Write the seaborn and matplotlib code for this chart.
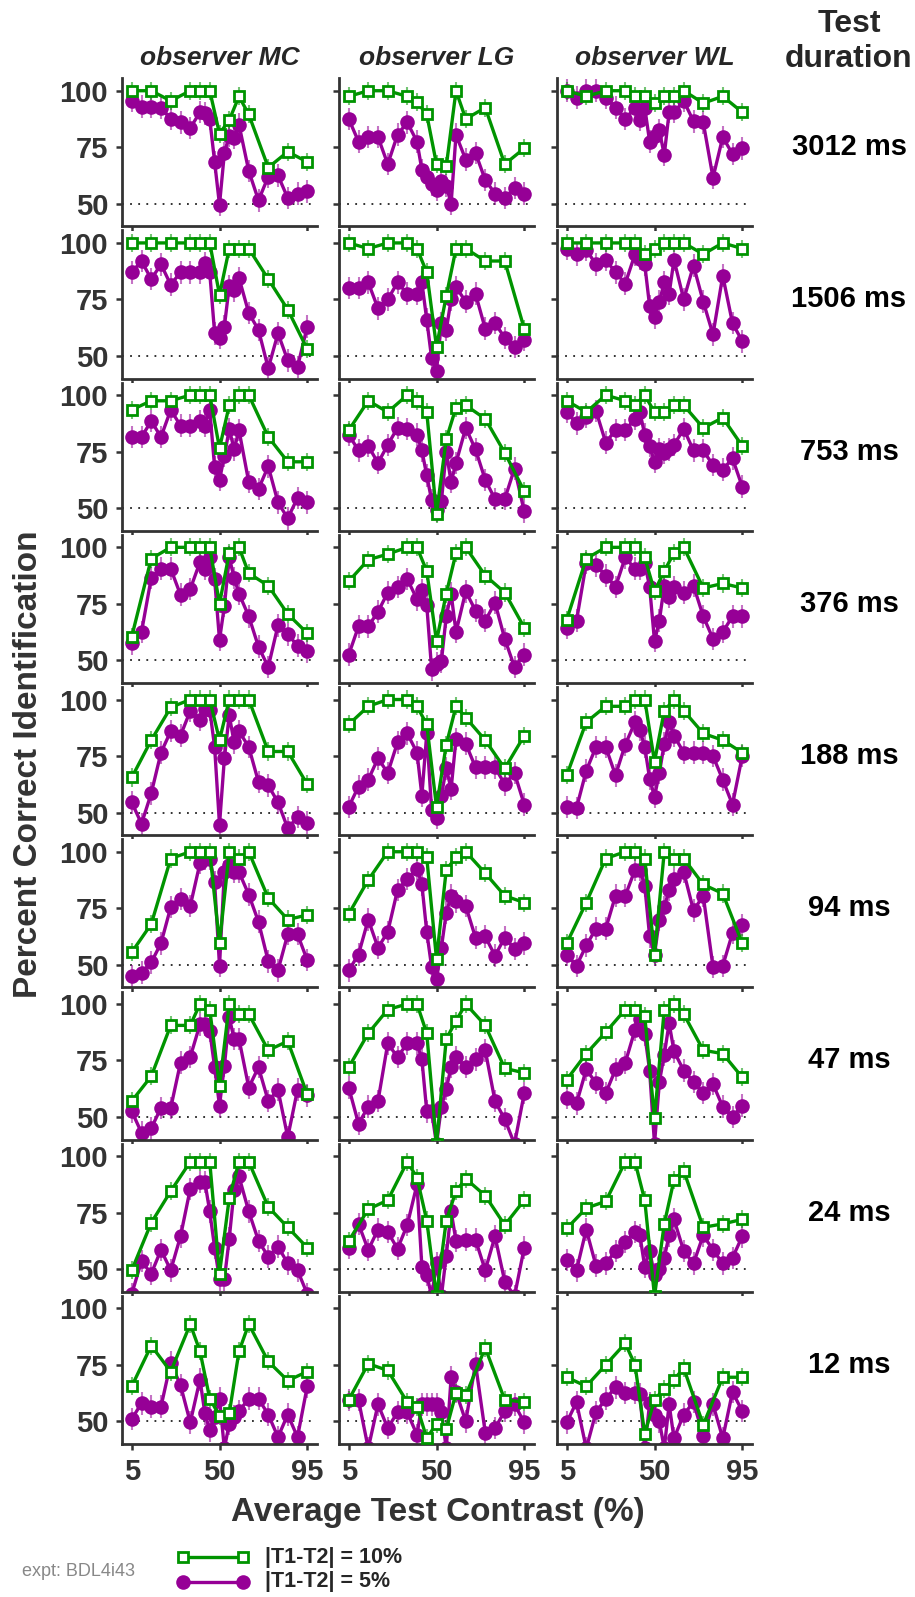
import numpy as np
import pandas as pd
import matplotlib
matplotlib.use("Agg")
import matplotlib.pyplot as plt
import seaborn as sns
from matplotlib.lines import Line2D
from matplotlib import transforms

# ---------------- data ----------------
X10 = [5, 15, 25, 35, 40, 45, 50, 55, 60, 65, 75, 85, 95]
X5 = [5, 10, 15, 20, 25, 30, 35, 40, 42.5, 45, 47.5, 50, 52.5, 55, 57.5, 60, 65, 70, 75, 80, 85, 90, 95]
DURATIONS = ["3012 ms", "1506 ms", "753 ms", "376 ms", "188 ms", "94 ms", "47 ms", "24 ms", "12 ms"]
OBSERVERS = ["observer MC", "observer LG", "observer WL"]
X_TICKS = [5, 50, 95]
Y_TICKS = [50, 75, 100]
ERR_10 = 4.0
ERR_5 = 5.0

# observer MC
MC_10 = [
    [100, 100, 95.5, 100, 100, 100, 81, 87, 97.5, 89.5, 66, 73, 68.5],
    [100, 100, 100, 100, 100, 100, 77, 97.5, 97.5, 97.5, 84, 70.5, 53],
    [93.5, 97.5, 97.5, 100, 100, 100, 76.5, 95.5, 100, 100, 81.5, 70.5, 70.5],
    [60.5, 95, 100, 100, 100, 100, 75, 97.5, 100, 88.5, 83, 70.5, 62],
    [65.5, 82, 96.5, 100, 100, 100, 82, 100, 100, 100, 77, 77, 62.5],
    [55.5, 68, 97, 100, 100, 100, 59.5, 100, 97, 100, 79.5, 70, 72],
    [57, 68, 90.5, 90.5, 100, 97.5, 63.5, 100, 95.5, 95.5, 79.5, 83.5, 60],
    [49.5, 70.5, 84.5, 97.5, 97.5, 97.5, 48, 81.5, 97.5, 97.5, 77.5, 68.5, 59.5],
    [65.5, 83.5, 72, 93, 81, 60, 52.5, 53.5, 81, 93, 76.5, 68, 72],
]
MC_5 = [
    [95.5, 93, 93, 92.5, 87.5, 86, 83.5, 90.5, 90, 87.5, 68.5, 49.5, 72.5, 80, 79, 85, 64.5, 51.5, 62, 62.5, 52.5, 54.5, 55.5],
    [87, 92, 84, 90.5, 81.5, 87, 87, 87, 91, 87, 60, 58, 63, 81, 79, 84.5, 69, 61.5, 44.5, 60, 48, 45, 63],
    [81.5, 81.5, 88.5, 81.5, 93.5, 86.5, 86.5, 88.5, 86.5, 93.5, 68, 62.5, 73, 85, 76, 84.5, 61.5, 58.5, 68.5, 52.5, 45.5, 54.5, 52.5],
    [57.5, 62.5, 86.5, 90.5, 90.5, 79, 81.5, 93.5, 90.5, 95.5, 86, 59, 74, 95.5, 86.5, 79.5, 69.5, 56, 47, 65.5, 61.5, 56.5, 54],
    [54.5, 45, 58.5, 76.5, 86, 84, 95, 91, 96, 95.5, 79, 44.5, 74, 93, 81, 86, 79, 63.5, 62, 54.5, 43, 48, 45.5],
    [45, 46.5, 51, 59.5, 75.5, 79, 76, 95, 97, 97, 86.5, 49.5, 91, 94, 91, 91, 81, 69, 51.5, 47.5, 63.5, 63.5, 52],
    [52.5, 43, 45, 54, 54, 74, 76.5, 91, 91, 88, 72, 55, 72.5, 94, 84.5, 84.5, 63, 72, 57, 62, 41, 62, 59.5],
    [39, 53.5, 48, 58.5, 49.5, 64.5, 85.5, 88.5, 88.5, 75.5, 59.5, 45.5, 45.5, 63.5, 85, 91, 75.5, 62.5, 55.5, 60, 52.5, 49.5, 39],
    [51, 58, 56.5, 56.5, 76, 66, 49.5, 68.5, 53.5, 46, 52, 60, 38, 49, 52, 54.5, 60, 60, 53, 43, 53, 43, 65.5],
]

# observer LG
LG_10 = [
    [97.5, 100, 100, 97.5, 95, 89.5, 67.5, 66.5, 100, 87.5, 92.5, 67.5, 74.5],
    [100, 97.5, 100, 100, 97.5, 87, 54, 76.5, 97.5, 97.5, 92, 92, 62],
    [84.5, 97.5, 92.5, 100, 97.5, 92.5, 47.5, 80.5, 94.5, 95.5, 89.5, 74.5, 57.5],
    [85, 94.5, 97, 100, 100, 89.5, 58.5, 79.5, 97.5, 100, 87.5, 80, 64.5],
    [89, 97, 100, 100, 97, 89, 52.5, 80, 97, 92, 82, 69.5, 84],
    [72.5, 87.5, 100, 100, 100, 97.5, 52.5, 92, 97.5, 100, 90.5, 80.5, 77.5],
    [72, 87, 97.5, 100, 100, 87, 38, 84.5, 92.5, 100, 90.5, 71.5, 69.5],
    [62.5, 76.5, 80.5, 97.5, 90.5, 71.5, 38, 71.5, 84.5, 90, 82.5, 69.5, 80.5],
    [59.5, 75.5, 72.5, 58.5, 56.5, 42.5, 49, 46.5, 62.5, 61.5, 82.5, 59.5, 58.5],
]
LG_5 = [
    [87.5, 77.5, 79.5, 79.5, 67.5, 80.5, 86, 77.5, 65, 62, 58.5, 56, 60, 58, 50, 80.5, 69.5, 72.5, 60.5, 54.5, 52.5, 57, 54.5],
    [80, 80, 82.5, 71, 75, 82.5, 77.5, 77.5, 82.5, 66, 49, 43.5, 64.5, 61.5, 75, 80.5, 74, 77.5, 62, 64.5, 58, 54, 57],
    [82.5, 75.5, 77.5, 70, 78, 85.5, 85, 82.5, 75.5, 64.5, 53.5, 49, 53, 75, 61.5, 70, 85.5, 76, 62.5, 54, 54, 67.5, 48.5],
    [52.5, 65, 65, 71.5, 80, 82.5, 86, 77, 81, 74.5, 46, 48.5, 49.5, 69.5, 79.5, 62.5, 80.5, 72, 67.5, 75.5, 59.5, 47, 52.5],
    [52.5, 61.5, 64.5, 74, 67.5, 81, 85, 76.5, 57.5, 85, 51, 47.5, 57.5, 69.5, 60.5, 82.5, 80.5, 70, 70, 70, 62.5, 67.5, 53.5],
    [47.5, 54.5, 70, 57.5, 64.5, 83, 88, 92.5, 85.5, 64.5, 49, 43.5, 57.5, 73, 80.5, 78, 76, 62, 62.5, 54, 62, 57, 59.5],
    [63, 47, 54.5, 57, 82.5, 76.5, 82.5, 82.5, 75.5, 52.5, 52.5, 38, 54.5, 62.5, 72, 76.5, 72, 75.5, 79.5, 57, 49, 38, 60.5],
    [59.5, 70, 58.5, 67.5, 66.5, 59, 69.5, 87.5, 51, 47.5, 38, 52.5, 38, 56, 75.5, 62.5, 63, 63, 49.5, 64.5, 44.5, 38, 59.5],
    [59.5, 59.5, 38, 57.5, 47, 54, 54, 44, 57.5, 57.5, 57.5, 57.5, 54, 38, 69.5, 63, 50, 75.5, 45, 47, 54.5, 57.5, 49.5],
]

# observer WL
WL_10 = [
    [100, 97.5, 100, 100, 97.5, 97.5, 94.5, 97.5, 97.5, 100, 94.5, 97.5, 90.5],
    [100, 100, 100, 100, 100, 95, 97.5, 100, 100, 100, 95, 100, 97.5],
    [97.5, 92.5, 100, 97.5, 95.5, 100, 92.5, 92.5, 95.5, 95.5, 85.5, 90, 77.5],
    [68, 95, 100, 100, 100, 95.5, 80.5, 89.5, 97.5, 100, 82, 84, 82],
    [66.5, 90, 97, 97, 100, 100, 72.5, 95, 100, 95, 85, 82, 76.5],
    [59.5, 77.5, 97, 100, 100, 97, 54.5, 100, 97, 97, 85.5, 81.5, 59.5],
    [66.5, 78, 87.5, 97.5, 97.5, 94.5, 49.5, 97.5, 100, 95.5, 79.5, 78, 67.5],
    [68, 77, 80, 97.5, 97.5, 80.5, 38, 70, 89.5, 93.5, 68.5, 70, 72],
    [69.5, 65.5, 75, 84.5, 75, 44.5, 59.5, 64.5, 68.5, 73.5, 48.5, 69.5, 69.5],
]
WL_5 = [
    [100, 97, 100, 100, 97, 92.5, 87.5, 92.5, 87, 92.5, 77.5, 80, 82.5, 71.5, 90.5, 90.5, 95.5, 86.5, 86, 61.5, 79.5, 72, 74.5],
    [97.5, 95, 97, 90.5, 92.5, 87, 82, 95, 93, 90.5, 72, 67, 74, 82.5, 77.5, 92.5, 75, 90, 74, 59.5, 85.5, 64.5, 56.5],
    [92.5, 87.5, 90.5, 93, 79, 84.5, 84.5, 89.5, 92.5, 82.5, 77.5, 70.5, 76, 74.5, 76, 78, 85, 75.5, 75.5, 69, 67, 72, 59.5],
    [64.5, 67.5, 93, 92, 87.5, 82.5, 95.5, 90.5, 90.5, 93, 82.5, 58.5, 67.5, 83, 78, 82.5, 80, 83, 69.5, 59.5, 62.5, 69.5, 69.5],
    [52.5, 52, 68.5, 79, 79, 66.5, 80, 90, 86.5, 79, 65, 57, 67.5, 80.5, 90, 84, 76.5, 76.5, 76.5, 75, 64.5, 53.5, 75],
    [54.5, 49.5, 58.5, 66, 66, 80.5, 80.5, 92, 92, 85, 62.5, 54.5, 70, 75.5, 83, 88, 91, 74, 80.5, 49, 49.5, 64, 67.5],
    [58.5, 56, 71, 65, 60.5, 71, 74, 88.5, 93.5, 86.5, 70.5, 38, 65.5, 77.5, 91.5, 79, 70.5, 65.5, 60.5, 64.5, 54.5, 50, 55],
    [54, 49.5, 67.5, 51.5, 52.5, 58, 62, 66.5, 65, 51, 58, 47.5, 50, 55, 65, 72, 58, 52.5, 65, 58.5, 52.5, 55, 64.5],
    [49.5, 58.5, 38, 54, 60, 65, 62.5, 62.5, 62, 38, 58, 53, 50, 38, 57.5, 42.5, 53, 58.5, 43.5, 57.5, 42.5, 63, 54.5],
]

SERIES_10 = [MC_10, LG_10, WL_10]
SERIES_5 = [MC_5, LG_5, WL_5]
LEGEND_LABELS = ["|T1-T2| = 10%", "|T1-T2| = 5%"]

# ---------------- style ----------------
sns.set_style("ticks")
plt.rcParams["font.family"] = ["Liberation Sans", "DejaVu Sans"]
GREEN = "#009400"
PURPLE = "#960096"
AX_COL = "#333333"

W, H = 915, 1597
fig = plt.figure(figsize=(W / 100, H / 100), dpi=100)

COL_LEFT = [122, 339, 557]
AX_W = 195
ROW_TOP0 = 78.3
ROW_STEP = 152.2
AX_H = 148

for r in range(9):
    for c in range(3):
        top = ROW_TOP0 + ROW_STEP * r
        ax = fig.add_axes([COL_LEFT[c] / W, 1 - (top + AX_H) / H, AX_W / W, AX_H / H])
        y10 = np.array(SERIES_10[c][r], dtype=float)
        y5 = np.array(SERIES_5[c][r], dtype=float)
        df10 = pd.DataFrame({"contrast": X10, "pct": y10})
        df5 = pd.DataFrame({"contrast": X5, "pct": y5})

        ax.axhline(50, color="#222222", lw=1.3, ls=(0, (1, 3.5)), zorder=0.5)
        ax.vlines(X5, y5 - ERR_5, y5 + ERR_5, colors=PURPLE, alpha=0.55, lw=1.5, zorder=1)
        ax.vlines(X10, y10 - ERR_10, y10 + ERR_10, colors=GREEN, alpha=0.55, lw=1.5, zorder=1)

        sns.lineplot(data=df5, x="contrast", y="pct", ax=ax, color=PURPLE,
                     marker="o", markersize=10.5, markeredgecolor=PURPLE,
                     markeredgewidth=0, linewidth=2.4, errorbar=None,
                     legend=False, zorder=2)
        sns.lineplot(data=df10, x="contrast", y="pct", ax=ax, color=GREEN,
                     marker="s", markersize=7.5, markerfacecolor="white",
                     markeredgecolor=GREEN, markeredgewidth=2.0, linewidth=2.4,
                     errorbar=None, legend=False, zorder=3)

        ax.set_xlim(0, 100)
        ax.set_ylim(40, 105.5)
        ax.set_xticks(X_TICKS)
        ax.set_yticks(Y_TICKS)
        ax.set_xlabel("")
        ax.set_ylabel("")
        for s in ["top", "right"]:
            ax.spines[s].set_visible(False)
        for s in ["left", "bottom"]:
            ax.spines[s].set_linewidth(2.0)
            ax.spines[s].set_color(AX_COL)
        ax.tick_params(axis="both", direction="out", length=4, width=1.8,
                       color=AX_COL, labelcolor=AX_COL, labelsize=21, pad=6)
        for lab in ax.get_xticklabels() + ax.get_yticklabels():
            lab.set_fontweight("bold")
        if r != 8:
            ax.set_xticklabels([])
        else:
            ax.set_xticklabels([str(t) for t in X_TICKS], fontweight="bold")
        if c != 0:
            ax.set_yticklabels([])
        else:
            ax.set_yticklabels([str(t) for t in Y_TICKS], fontweight="bold")

        if r == 0:
            ax.text(50, 1.0, "", transform=ax.transData)
        if c == 2:
            tr = transforms.blended_transform_factory(fig.transFigure, ax.transData)
            ax.text(849 / W, 75, DURATIONS[r], transform=tr, ha="center", va="center",
                    fontsize=21, fontweight="bold", color="black")

# column titles
for c in range(3):
    fig.text((COL_LEFT[c] + AX_W / 2) / W, 1 - 58 / H, OBSERVERS[c], ha="center",
             va="center", fontsize=19, fontweight="bold", fontstyle="italic")

fig.text(849 / W, 1 - 24.5 / H, "Test", ha="center", va="center", fontsize=23, fontweight="bold")
fig.text(849 / W, 1 - 59 / H, "duration", ha="center", va="center", fontsize=23, fontweight="bold")

fig.text(29 / W, 1 - 764 / H, "Percent Correct Identification", rotation=90,
         ha="center", va="center", fontsize=24, fontweight="bold", color=AX_COL)
fig.text(438 / W, 1 - 1513 / H, "Average Test Contrast (%)", ha="center", va="center",
         fontsize=24, fontweight="bold", color=AX_COL)

# legend
leg_y = [1557, 1582]
fig.add_artist(Line2D([183 / W, 243 / W], [1 - leg_y[0] / H] * 2, color=GREEN, lw=2.4,
                      marker="s", markersize=7.5, markerfacecolor="white",
                      markeredgecolor=GREEN, markeredgewidth=2.0, transform=fig.transFigure))
fig.add_artist(Line2D([183 / W, 243 / W], [1 - leg_y[1] / H] * 2, color=PURPLE, lw=2.4,
                      marker="o", markersize=10.5, markeredgewidth=0, transform=fig.transFigure))
for yy, lab in zip(leg_y, LEGEND_LABELS):
    fig.text(265 / W, 1 - yy / H, lab, ha="left", va="center", fontsize=15.5, fontweight="bold")

fig.text(22 / W, 1 - 1572 / H, "expt: BDL4i43", ha="left", va="center", fontsize=13, color="#888888")

fig.savefig("out.png", dpi=100)
